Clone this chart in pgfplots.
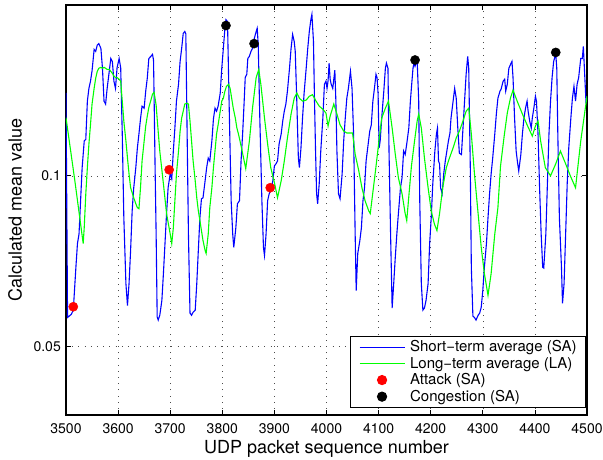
\documentclass[border=0pt]{standalone}
\usepackage{fontspec}
\setmainfont{TeX Gyre Heros}
\usepackage{pgfplots}
\pgfplotsset{compat=1.18}

\definecolor{saBlue}{rgb}{0,0,1}
\definecolor{laGreen}{rgb}{0,1,0}

\begin{document}
\begin{tikzpicture}
\begin{axis}[
    scale only axis,
    width=521pt, height=410pt,
    xmin=3500, xmax=4500,
    ymode=log, ymin=0.0379, ymax=0.2,
    xtick={3500,3600,...,4500},
    ytick={0.05,0.1}, yticklabels={0.05,0.1},
    minor y tick num=0,
    /pgf/number format/1000 sep={},
    /pgf/number format/assume math mode=true,
    tick align=inside,
    major tick length=5pt,
    tick style={black, line width=0.7pt},
    axis line style={black, line width=1.2pt},
    grid=major,
    grid style={black!70, line width=0.6pt, dash pattern=on 0.8pt off 5.4pt},
    ticklabel style={font=\fontsize{14}{16}\selectfont},
    xticklabel style={anchor=north, inner sep=0pt, yshift=-8pt},
    yticklabel style={anchor=east, inner sep=0pt, xshift=-5pt},
    xlabel={UDP packet sequence number},
    ylabel={Calculated mean value},
    label style={font=\fontsize{18}{20}\selectfont},
    xlabel style={at={(axis description cs:0.5,0)}, anchor=north, inner sep=0pt, yshift=-25pt},
    ylabel style={at={([xshift=-58pt]axis description cs:0,0.5)}, anchor=north, inner sep=0pt},
    legend cell align=left,
    legend image code/.code={\draw[mark repeat=2,mark phase=2] plot coordinates {(0pt,0pt) (22.5pt,0pt) (45pt,0pt)};},
    legend style={at={(1,0)}, anchor=south east, xshift=-1pt, yshift=7pt,
        font=\fontsize{15}{17}\selectfont, draw=black, line width=1pt,
        nodes={inner sep=0pt}, column sep=5pt, row sep=3.9pt,
        inner xsep=9pt, inner ysep=4.5pt},
]
% short-term average
\addplot[saBlue, line width=1.1pt] coordinates {
(3500,0.140) (3503,0.0563) (3506,0.0566) (3510,0.0570) (3514,0.0580) (3519,0.069)
(3522,0.076) (3525,0.079) (3528,0.0904) (3531,0.1034) (3535,0.1152) (3538,0.116)
(3541,0.1354) (3544,0.1426) (3547,0.1468) (3550,0.1531) (3554,0.167) (3557,0.1657)
(3560,0.170) (3563,0.171) (3567,0.1677) (3570,0.1547) (3573,0.1354) (3576,0.1338)
(3579,0.1426) (3583,0.1528) (3586,0.161) (3589,0.159) (3592,0.1468) (3595,0.1426)
(3598,0.155) (3602,0.161) (3605,0.155) (3608,0.1185) (3611,0.0844) (3615,0.0646)
(3618,0.0591) (3621,0.0646) (3624,0.0739) (3627,0.0868) (3630,0.0952) (3634,0.1034)
(3637,0.1120) (3640,0.1185) (3643,0.126) (3646,0.1327) (3650,0.1316) (3653,0.141)
(3656,0.1486) (3659,0.161) (3663,0.1624) (3666,0.1637) (3668,0.160) (3669,0.1398)
(3671,0.1034) (3673,0.079) (3675,0.0564) (3677,0.0557) (3680,0.0568) (3684,0.0603)
(3687,0.0673) (3690,0.0760) (3693,0.0858) (3696,0.0953) (3700,0.1008) (3703,0.0988)
(3706,0.1106) (3709,0.1214) (3712,0.1354) (3716,0.145) (3719,0.1591) (3722,0.1677)
(3725,0.1782) (3728,0.1796) (3730,0.178) (3735,0.079) (3738,0.0573) (3741,0.0568)
(3744,0.0575) (3748,0.0580) (3751,0.0646) (3754,0.0739) (3757,0.0844) (3760,0.0911)
(3763,0.0915) (3767,0.0980) (3770,0.1034) (3773,0.1075) (3776,0.1062) (3780,0.1152)
(3783,0.126) (3786,0.1316) (3789,0.130) (3792,0.1327) (3796,0.1398) (3799,0.1547)
(3802,0.1677) (3805,0.1818) (3807,0.1885) (3810,0.187) (3813,0.1354) (3817,0.0904)
(3820,0.079) (3822,0.0748) (3826,0.081) (3829,0.0893) (3833,0.0904) (3834,0.0952)
(3836,0.1062) (3839,0.1185) (3842,0.1354) (3844,0.149) (3847,0.151) (3849,0.161)
(3852,0.1624) (3855,0.1657) (3858,0.1677) (3861,0.174) (3865,0.1796) (3867,0.182)
(3869,0.170) (3872,0.1264) (3876,0.0904) (3879,0.0748) (3881,0.0724) (3884,0.079)
(3887,0.0904) (3890,0.093) (3893,0.0941) (3897,0.098) (3900,0.1041) (3903,0.105)
(3906,0.1062) (3909,0.1138) (3913,0.1185) (3916,0.1249) (3919,0.130) (3922,0.1338)
(3925,0.141) (3929,0.1547) (3932,0.1677) (3935,0.1775) (3938,0.1725) (3940,0.1657)
(3943,0.1354) (3946,0.1075) (3948,0.1034) (3951,0.112) (3954,0.1264) (3957,0.1398)
(3961,0.1547) (3964,0.1677) (3967,0.1796) (3970,0.1885) (3972,0.1925) (3975,0.1725)
(3977,0.1354) (3979,0.1106) (3981,0.093) (3983,0.0893) (3986,0.0968) (3989,0.1106)
(3993,0.1264) (3996,0.145) (3999,0.1468) (4001,0.1426) (4003,0.147) (4005,0.158)
(4007,0.148) (4009,0.145) (4012,0.1426) (4016,0.1535) (4018,0.1354) (4020,0.1106)
(4023,0.093) (4026,0.0911) (4030,0.1008) (4033,0.1152) (4036,0.1264) (4039,0.137)
(4042,0.1426) (4046,0.1528) (4049,0.1426) (4052,0.1185) (4055,0.079) (4057,0.0628)
(4060,0.073) (4064,0.0769) (4067,0.081) (4070,0.0904) (4073,0.0953) (4076,0.1062)
(4080,0.1138) (4083,0.1199) (4086,0.123) (4089,0.1354) (4092,0.1426) (4095,0.151)
(4097,0.149) (4099,0.1398) (4101,0.112) (4103,0.1152) (4106,0.1264) (4110,0.141)
(4113,0.1547) (4115,0.158) (4118,0.1547) (4120,0.1106) (4123,0.079) (4126,0.0585)
(4129,0.0646) (4132,0.0718) (4135,0.079) (4138,0.0858) (4142,0.0953) (4145,0.0992)
(4148,0.1106) (4151,0.109) (4154,0.1138) (4158,0.1214) (4161,0.1354) (4164,0.1468)
(4166,0.1547) (4168,0.158) (4170,0.156) (4172,0.158) (4174,0.160) (4177,0.1354)
(4179,0.0904) (4182,0.0646) (4185,0.0580) (4188,0.0585) (4191,0.0603) (4195,0.0646)
(4198,0.076) (4201,0.0844) (4204,0.0968) (4208,0.1106) (4211,0.1185) (4213,0.1214)
(4215,0.1062) (4217,0.105) (4219,0.0953) (4222,0.093) (4225,0.1008) (4228,0.1062)
(4231,0.1106) (4234,0.1152) (4237,0.119) (4239,0.1264) (4243,0.1354) (4246,0.1426)
(4249,0.137) (4252,0.1214) (4255,0.1096) (4259,0.109) (4262,0.1214) (4265,0.1354)
(4268,0.151) (4271,0.1624) (4273,0.1547) (4276,0.1034) (4278,0.069) (4281,0.0566)
(4284,0.0563) (4287,0.0557) (4291,0.0568) (4294,0.0573) (4297,0.0587) (4300,0.0628)
(4303,0.069) (4307,0.076) (4310,0.0844) (4313,0.093) (4316,0.1008) (4319,0.1075)
(4323,0.1185) (4326,0.1285) (4329,0.137) (4333,0.141) (4335,0.142) (4339,0.1468)
(4342,0.148) (4344,0.141) (4347,0.145) (4350,0.1547) (4353,0.157) (4356,0.1591)
(4358,0.149) (4361,0.1264) (4364,0.1106) (4367,0.105) (4369,0.102) (4373,0.109)
(4376,0.1185) (4379,0.1264) (4382,0.1316) (4385,0.1354) (4387,0.130) (4390,0.1249)
(4393,0.1214) (4395,0.1264) (4398,0.1316) (4401,0.1381) (4403,0.1354) (4406,0.1185)
(4409,0.0953) (4412,0.079) (4415,0.069) (4417,0.0688) (4421,0.079) (4424,0.0968)
(4427,0.1185) (4430,0.1354) (4433,0.149) (4436,0.1591) (4440,0.164) (4442,0.1547)
(4444,0.1185) (4447,0.0844) (4451,0.069) (4453,0.0596) (4456,0.0646) (4459,0.079)
(4462,0.0968) (4465,0.112) (4469,0.1264) (4472,0.137) (4475,0.1438) (4478,0.1354)
(4481,0.145) (4484,0.149) (4488,0.161) (4491,0.161) (4493,0.1691) (4495,0.1547)
(4498,0.1354) (4500,0.137)
};
\addlegendentry{Short−term average (SA)}
% long-term average
\addplot[laGreen, line width=1.1pt] coordinates {
(3500,0.1266) (3517,0.098) (3533,0.0760) (3535,0.0811) (3538,0.0929) (3541,0.1034)
(3544,0.1138) (3547,0.123) (3550,0.1338) (3554,0.1426) (3557,0.1486) (3560,0.1528)
(3563,0.1547) (3567,0.1553) (3570,0.1547) (3573,0.1553) (3576,0.1547) (3579,0.154)
(3583,0.154) (3586,0.1528) (3589,0.1516) (3592,0.1498) (3595,0.149) (3598,0.149)
(3602,0.148) (3605,0.1468) (3608,0.1354) (3611,0.1249) (3615,0.1152) (3618,0.1075)
(3621,0.1008) (3624,0.0953) (3627,0.0934) (3630,0.0915) (3634,0.0893) (3637,0.0879)
(3640,0.0875) (3643,0.0953) (3646,0.1062) (3650,0.1152) (3653,0.1224) (3656,0.1274)
(3659,0.1320) (3663,0.1360) (3666,0.1392) (3669,0.1404) (3673,0.1333) (3675,0.126)
(3680,0.1106) (3687,0.0968) (3693,0.0858) (3700,0.079) (3703,0.076) (3706,0.081)
(3709,0.0904) (3712,0.1008) (3716,0.1106) (3719,0.1199) (3722,0.1264) (3725,0.130)
(3728,0.1338) (3732,0.1343) (3735,0.1338) (3738,0.1249) (3741,0.1152) (3744,0.1062)
(3748,0.098) (3751,0.0915) (3754,0.0868) (3757,0.0834) (3763,0.0769) (3767,0.0739)
(3769,0.073) (3770,0.0745) (3773,0.079) (3776,0.0879) (3780,0.0953) (3783,0.1034)
(3786,0.1106) (3789,0.1185) (3792,0.123) (3796,0.130) (3799,0.1354) (3802,0.137)
(3805,0.141) (3808,0.1438) (3812,0.145) (3815,0.1426) (3818,0.137) (3821,0.1316)
(3825,0.1264) (3828,0.1214) (3831,0.1185) (3834,0.1152) (3836,0.1129) (3842,0.1062)
(3845,0.103) (3852,0.1152) (3858,0.1316) (3865,0.149) (3870,0.154) (3874,0.145)
(3881,0.1264) (3887,0.1138) (3893,0.1034) (3900,0.0973) (3906,0.0915) (3913,0.098)
(3919,0.1062) (3925,0.1166) (3932,0.1285) (3938,0.137) (3943,0.140) (3948,0.137)
(3954,0.1354) (3961,0.136) (3967,0.1381) (3973,0.139) (3980,0.1354) (3986,0.1327)
(3993,0.131) (3999,0.129) (4003,0.1224) (4007,0.1274) (4014,0.1338) (4020,0.1285)
(4026,0.123) (4033,0.1199) (4039,0.119) (4046,0.119) (4050,0.119) (4055,0.1092)
(4062,0.102) (4068,0.0953) (4074,0.0904) (4081,0.0868) (4084,0.0858) (4087,0.0904)
(4094,0.102) (4100,0.1138) (4106,0.1264) (4113,0.1316) (4119,0.1354) (4126,0.1214)
(4132,0.1092) (4138,0.0992) (4145,0.093) (4151,0.0858) (4154,0.0834) (4158,0.092)
(4163,0.104) (4169,0.1152) (4174,0.1249) (4177,0.1285) (4182,0.1214) (4188,0.1075)
(4195,0.0953) (4201,0.0868) (4207,0.0823) (4212,0.0801) (4217,0.0858) (4223,0.0953)
(4230,0.1034) (4236,0.1075) (4243,0.112) (4249,0.1166) (4255,0.1199) (4262,0.1249)
(4268,0.130) (4273,0.1316) (4278,0.1185) (4284,0.1008) (4291,0.0858) (4297,0.0748)
(4303,0.0673) (4310,0.0616) (4316,0.0673) (4323,0.079) (4329,0.0879) (4334,0.104)
(4341,0.1175) (4347,0.129) (4353,0.137) (4358,0.1416) (4366,0.1354) (4376,0.1285)
(4385,0.123) (4395,0.1175) (4401,0.1224) (4406,0.1249) (4411,0.1152) (4420,0.1034)
(4430,0.100) (4440,0.105) (4449,0.1106) (4459,0.105) (4468,0.100) (4478,0.0953)
(4488,0.1152) (4500,0.1381)
};
\addlegendentry{Long−term average (LA)}
\addplot[only marks, mark=*, mark size=4.6pt, red] coordinates {
(3514,0.0588) (3698,0.1025) (3892,0.0953)
};
\addlegendentry{Attack (SA)}
\addplot[only marks, mark=*, mark size=4.6pt, black] coordinates {
(3807,0.184) (3861,0.171) (4170,0.160) (4440,0.165)
};
\addlegendentry{Congestion (SA)}
\end{axis}
\pgfresetboundingbox
\path ([shift={(-66pt,-45pt)}]current axis.south west) rectangle ([shift={(16pt,5pt)}]current axis.north east);
\end{tikzpicture}
\end{document}
